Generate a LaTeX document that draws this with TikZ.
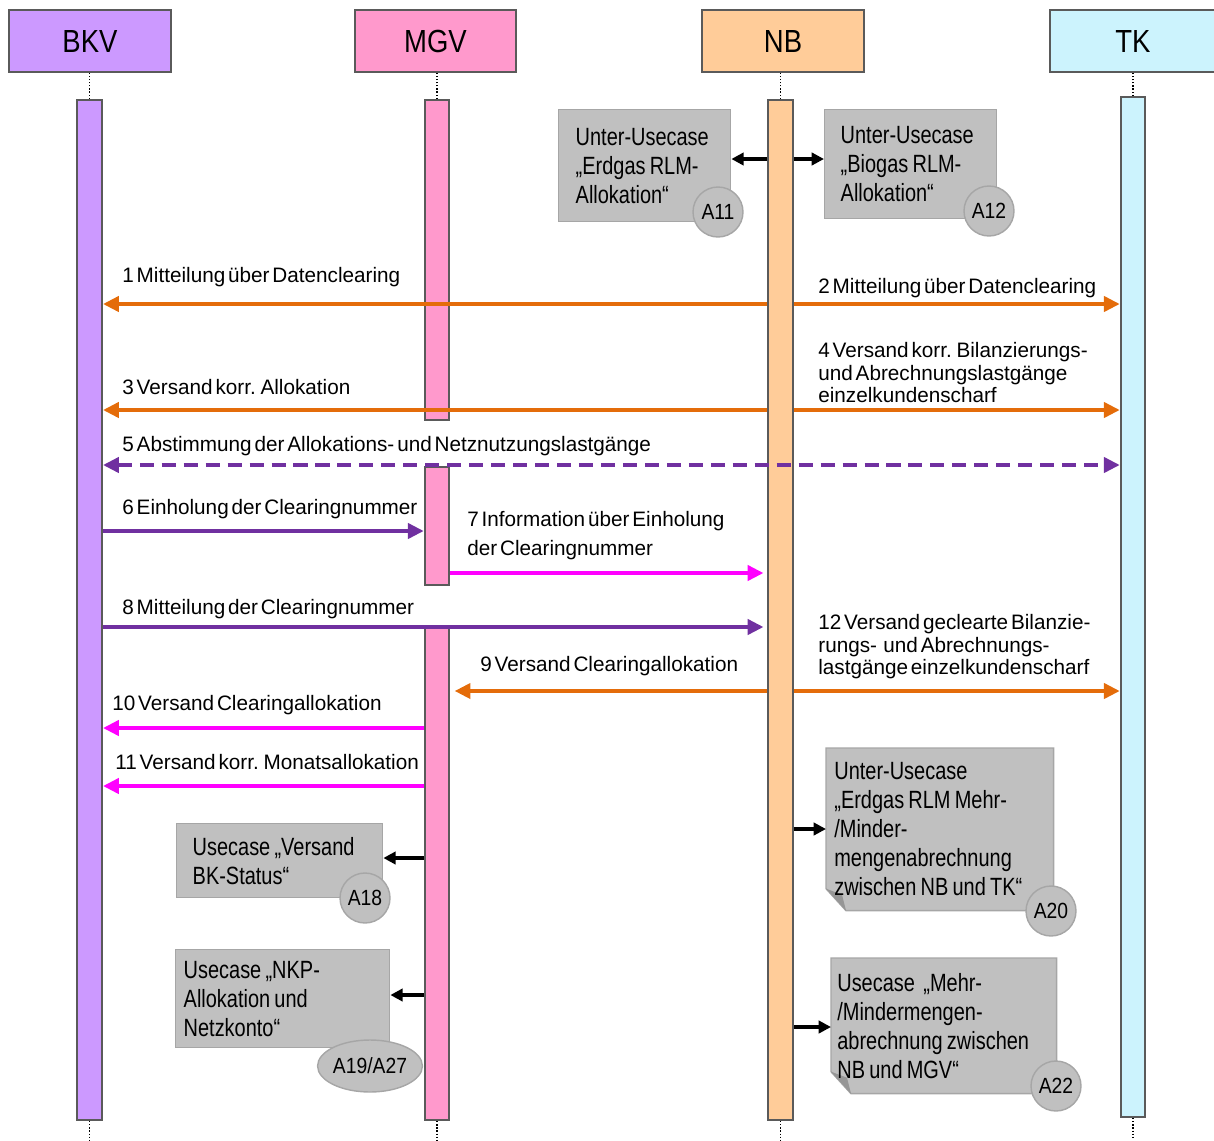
\documentclass[tikz,border=0pt]{standalone}
\usepackage{fontspec}
\setmainfont{Liberation Sans}
\newfontfamily\headfont{Liberation Sans}[FakeStretch=0.86]
\newfontfamily\notefont{Liberation Sans}[FakeStretch=0.8]
\newfontfamily\badgefont{Liberation Sans}[FakeStretch=0.88]
\newfontfamily\msgfont{Liberation Sans}[FakeStretch=0.99,WordSpace=0.5]
\newcommand{\tightspaces}{\spaceskip=0.17em plus 0.02em\relax}
\usepackage{tikz}
\usetikzlibrary{arrows,arrows.meta,backgrounds,positioning,shapes.geometric}
\usepackage{xcolor}
\definecolor{bkvfill}{RGB}{204,153,255}
\definecolor{mgvfill}{RGB}{255,153,204}
\definecolor{nbfill}{RGB}{255,204,153}
\definecolor{tkfill}{RGB}{204,243,253}
\definecolor{barline}{RGB}{90,90,90}
\definecolor{notegray}{RGB}{192,192,192}
\definecolor{noteline}{RGB}{166,166,166}
\definecolor{foldgray}{RGB}{150,150,150}
\definecolor{msgorange}{RGB}{228,108,10}
\definecolor{msgpurple}{RGB}{112,48,160}
\definecolor{msgmagenta}{RGB}{255,0,255}

\begin{document}
\begin{tikzpicture}[x=0.02cm, y=-0.02cm,
		actor/.style={rectangle, draw=barline, line width=1.2pt, minimum width=3.24cm, minimum height=1.24cm, font=\headfont\fontsize{18.2}{21}\selectfont},
		bar/.style={rectangle, draw=barline, line width=1.1pt, minimum width=0.49cm, inner sep=0pt},
		life/.style={densely dotted, line width=0.8pt},
		msg/.style={-{Triangle[length=9pt,width=8.5pt]}, line width=2.5pt},
		msglabel/.style={anchor=west, inner sep=0pt, align=left, font=\msgfont\fontsize{11.9}{12.8}\selectfont},
		usecase/.style={rectangle, anchor=north west, align=left, inner ysep=0pt, font=\notefont\fontsize{14.2}{16.5}\selectfont, execute at begin node=\tightspaces},
		boxed/.style={fill=notegray, draw=noteline, line width=0.8pt},
		badge/.style={circle, fill=notegray, draw=noteline, line width=0.8pt, minimum size=1cm, inner sep=0pt, font=\badgefont\fontsize{12.5}{14}\selectfont},
		link/.style={-{Triangle[length=7pt,width=7pt]}, line width=1.8pt}]
		\useasboundingbox (0,0) rectangle (1214,1140);
		\coordinate (bottom) at (0,1140);
		
		\node (bkv) [actor, fill=bkvfill] at (90,41) {BKV};
		\node (mgv) [actor, fill=mgvfill, minimum width=3.22cm] at (435.5,41) {MGV};
		\node (nb) [actor, fill=nbfill] at (783,41) {NB};
		\node (tk) [actor, fill=tkfill, minimum width=3.32cm] at (1133,41) {TK};
		
		\node (bkvbar) [bar, fill=bkvfill, minimum width=0.5cm, minimum height=20.4cm] at (89.5,610) {};
		\node (mgvbar1) [bar, fill=mgvfill, minimum height=6.4cm] at (437,260) {};
		\node (mgvbar2) [bar, fill=mgvfill, minimum height=2.36cm] at (437,526) {};
		\node (mgvbar3) [bar, fill=mgvfill, minimum height=9.84cm] at (437,874) {};
		\node (nbbar) [bar, fill=nbfill, minimum width=0.5cm, minimum height=20.4cm] at (780.5,610) {};
		\node (tkbar) [bar, fill=tkfill, minimum height=20.4cm] at (1133,607) {};
		
		\draw [life] (bkvbar.north) -- (bkvbar.north |- bkv.south);
		\draw [life] (mgvbar1.north) -- (mgvbar1.north |- mgv.south);
		\draw [life] (nbbar.north) -- (nbbar.north |- nb.south);
		\draw [life] (tkbar.north) -- (tkbar.north |- tk.south);
		\draw [life] (bkvbar.south) -- (bkvbar.south |- bottom);
		\draw [life] (mgvbar3.south) -- (mgvbar3.south |- bottom);
		\draw [life] (nbbar.south) -- (nbbar.south |- bottom);
		\draw [life] (tkbar.south) -- (tkbar.south |- bottom);
		
		% usecase notes
		\node (n11) [usecase, boxed, inner xsep=0.34cm, text width=2.76cm, minimum height=2.24cm] at (558,109) {Unter-Usecase\\\kern0pt„Erdgas RLM-\\Allokation“};
		\node (n12) [usecase, boxed, inner xsep=0.32cm, text width=2.8cm, minimum height=2.18cm] at (824,109) {Unter-Usecase\\\kern0pt„Biogas RLM-\\Allokation“};
		\node (n18) [usecase, boxed, inner xsep=0.32cm, text width=3.48cm, minimum height=1.48cm] at (176,823) {Usecase „Versand\\BK-Status“};
		\node (n19) [usecase, boxed, inner xsep=0.16cm, text width=3.96cm, minimum height=1.96cm] at (175,949) {Usecase „NKP-\\Allokation und\\Netzkonto“};
		\node (n20) [usecase, inner xsep=0.16cm, text width=4.22cm, minimum height=3.24cm] at (826,748) {Unter-Usecase\\\kern0pt„Erdgas RLM Mehr-\\/Minder-\\mengenabrechnung\\zwischen NB und TK“};
		\node (n22) [usecase, inner xsep=0.12cm, text width=4.26cm, minimum height=2.7cm] at (831,958) {Usecase \,„Mehr-\\/Mindermengen-\\abrechnung zwischen\\NB und MGV“};
		\begin{scope}[on background layer]
			\foreach \n in {n20,n22} {
				\draw [boxed] (\n.north west) -- (\n.north east) -- (\n.south east) -- ([xshift=0.4cm]\n.south west) -- ([yshift=0.44cm]\n.south west) -- cycle;
				\fill [foldgray] ([yshift=0.44cm]\n.south west) -- ([xshift=0.4cm]\n.south west) -- ([xshift=0.32cm,yshift=0.32cm]\n.south west) -- cycle;
			}
		\end{scope}
		
		\node (a11) [badge] at (718,212) {A11};
		\node (a12) [badge] at (989,211) {A12};
		\node (a18) [badge] at (365,898) {A18};
		\node (a19) [badge, ellipse, minimum width=1.68cm, minimum height=1.04cm] at (370,1066) {A19/A27};
		\node (a20) [badge] at (1051,911) {A20};
		\node (a22) [badge] at (1056,1086) {A22};
		
		\coordinate (k11) at (0,159);
		\coordinate (k18) at (0,858);
		\coordinate (k19) at (0,995);
		\coordinate (k20) at (0,829);
		\coordinate (k22) at (0,1027);
		\draw [link] (nbbar.west |- k11) -- (n11.east |- k11);
		\draw [link] (nbbar.east |- k11) -- (n12.west |- k11);
		\draw [link] (mgvbar3.west |- k18) -- (n18.east |- k18);
		\draw [link] (mgvbar3.west |- k19) -- (n19.east |- k19);
		\draw [link] (nbbar.east |- k20) -- (n20.west |- k20);
		\draw [link] (nbbar.east |- k22) -- (n22.west |- k22);
		
		% messages
		\coordinate (m1) at (0,304);
		\coordinate (m3) at (0,410);
		\coordinate (m5) at (0,465);
		\coordinate (m6) at (0,531);
		\coordinate (m7) at (0,573);
		\coordinate (m8) at (0,627);
		\coordinate (m9) at (0,691);
		\coordinate (m10) at (0,728);
		\coordinate (m11) at (0,786);
		\draw [msg, msgorange] (nbbar.west |- m1) -- (bkvbar.east |- m1);
		\draw [msg, msgorange] (nbbar.east |- m1) -- (tkbar.west |- m1);
		\draw [msg, msgorange] (nbbar.west |- m3) -- (bkvbar.east |- m3);
		\draw [msg, msgorange] (nbbar.east |- m3) -- (tkbar.west |- m3);
		\draw [msg, {Triangle[length=9pt,width=8.5pt]}-{Triangle[length=9pt,width=8.5pt]}, msgpurple, dash pattern=on 8pt off 4.5pt] (bkvbar.east |- m5) -- (tkbar.west |- m5);
		\draw [msg, msgpurple] (bkvbar.east |- m6) -- (mgvbar2.west |- m6);
		\draw [msg, msgmagenta, shorten >=2pt] (mgvbar2.east |- m7) -- (nbbar.west |- m7);
		\draw [msg, msgpurple, shorten >=2pt] (bkvbar.east |- m8) -- (nbbar.west |- m8);
		\draw [msg, msgorange, shorten >=2.5pt] (nbbar.west |- m9) -- (mgvbar3.east |- m9);
		\draw [msg, msgorange] (nbbar.east |- m9) -- (tkbar.west |- m9);
		\draw [msg, msgmagenta] (mgvbar3.west |- m10) -- (bkvbar.east |- m10);
		\draw [msg, msgmagenta] (mgvbar3.west |- m11) -- (bkvbar.east |- m11);
		
		\node (l1) [msglabel] at (122,277) {1 Mitteilung über Datenclearing};
		\node (l2) [msglabel] at (818,288) {2 Mitteilung über Datenclearing};
		\node (l3) [msglabel] at (122,387) {3 Versand korr. Allokation};
		\node (l4) [msglabel] at (818,373) {4 Versand korr. Bilanzierungs-\\und Abrechnungslastgänge\\einzelkundenscharf};
		\node (l5) [msglabel] at (122,446) {5 Abstimmung der Allokations- und Netznutzungslastgänge};
		\node (l6) [msglabel] at (122,509) {6 Einholung der Clearingnummer};
		\node (l7) [msglabel] at (467,535.5) {7 Information über Einholung\\[3.7pt]der Clearingnummer};
		\node (l8) [msglabel] at (122,609) {8 Mitteilung der Clearingnummer};
		\node (l9) [msglabel] at (480,666) {9 Versand Clearingallokation};
		\node (l10) [msglabel] at (112,705) {10 Versand Clearingallokation};
		\node (l11) [msglabel] at (115,762) {11 Versand korr. Monatsallokation};
		\node (l12) [msglabel] at (818,647) {12 Versand geclearte Bilanzie-\\rungs- \,und Abrechnungs-\\lastgänge einzelkundenscharf};
	\end{tikzpicture}
\end{document}
